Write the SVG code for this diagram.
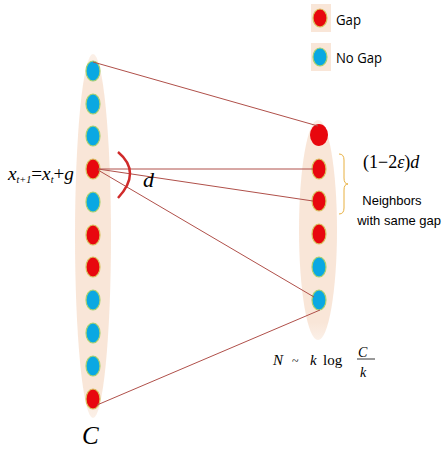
<svg xmlns="http://www.w3.org/2000/svg" width="443" height="449" viewBox="0 0 443 449">
<style>
.bg{fill:#f9e6d8}
.red{fill:#e8070e;stroke:#d8c060;stroke-width:1.2}
.blue{fill:#0aa8e2;stroke:#a8d070;stroke-width:1.2}
.con{stroke:#b0504a;stroke-width:1;fill:none}
.sans{font-family:"Open Sans","Liberation Sans",sans-serif;fill:#000}
.lsans{font-family:"Liberation Sans",Arial,sans-serif;fill:#000}
.math{font-family:"Liberation Serif",serif;font-style:italic;fill:#000}
.rm{font-family:"Liberation Serif",serif;fill:#000}
</style>
<defs>
<linearGradient id="fade" x1="0" y1="0" x2="0" y2="1">
<stop offset="0" stop-color="#f9e6d8" stop-opacity="0.6"/>
<stop offset="0.08" stop-color="#f9e6d8"/>
<stop offset="0.92" stop-color="#f9e6d8"/>
<stop offset="1" stop-color="#f9e6d8" stop-opacity="0.6"/>
</linearGradient>
</defs>
<g id="legend">
<rect x="311" y="4" width="20" height="28" class="bg"/>
<ellipse cx="320" cy="18" rx="7" ry="9" class="red"/>
<text x="336" y="25" font-size="15" class="sans" textLength="25" lengthAdjust="spacingAndGlyphs">Gap</text>
<rect x="311" y="43" width="20" height="28" class="bg"/>
<ellipse cx="320" cy="57" rx="7" ry="9" class="blue"/>
<text x="336" y="63" font-size="15" class="sans" textLength="46" lengthAdjust="spacingAndGlyphs">No Gap</text>
</g>
<g id="left-set">
<ellipse cx="93" cy="236" rx="18" ry="182" fill="url(#fade)"/>
<ellipse cx="93" cy="71" rx="7" ry="10" class="blue"/>
<ellipse cx="93" cy="104" rx="7" ry="10" class="blue"/>
<ellipse cx="93" cy="136" rx="7" ry="10" class="blue"/>
<ellipse cx="93" cy="169" rx="7" ry="10" class="red"/>
<ellipse cx="93" cy="202" rx="7" ry="10" class="blue"/>
<ellipse cx="93" cy="235" rx="7" ry="10" class="red"/>
<ellipse cx="93" cy="267" rx="7" ry="10" class="red"/>
<ellipse cx="93" cy="300" rx="7" ry="10" class="blue"/>
<ellipse cx="93" cy="333" rx="7" ry="10" class="blue"/>
<ellipse cx="93" cy="366" rx="7" ry="10" class="blue"/>
<ellipse cx="93" cy="399" rx="7" ry="10" class="red"/>
<text x="82" y="444" font-size="25" class="math">C</text>
</g>
<g id="right-set">
<ellipse cx="318" cy="230" rx="19" ry="110" fill="url(#fade)"/>
<ellipse cx="319" cy="135" rx="9" ry="11" fill="#e8070e"/>
<ellipse cx="319" cy="169" rx="7" ry="10" class="red"/>
<ellipse cx="319" cy="201" rx="7" ry="10" class="red"/>
<ellipse cx="319" cy="234" rx="7" ry="10" class="red"/>
<ellipse cx="319" cy="267" rx="7" ry="10" class="blue"/>
<ellipse cx="319" cy="300" rx="7" ry="10" class="blue"/>
</g>
<g id="connectors">
<line x1="93" y1="62" x2="318" y2="126" class="con"/>
<line x1="98" y1="169" x2="313" y2="169" class="con"/>
<line x1="98" y1="169" x2="313" y2="201" class="con"/>
<line x1="98" y1="170" x2="314" y2="297" class="con"/>
<line x1="97" y1="405" x2="320" y2="310" class="con"/>
</g>
<g id="angle">
<path d="M118,152 Q142,172 118,198" stroke="#d02a2a" stroke-width="2.5" fill="none"/>
<text x="143" y="187" font-size="22" class="math">d</text>
</g>
<g id="recurrence">
<text x="8" y="180" font-size="19" class="math" textLength="66" lengthAdjust="spacingAndGlyphs">x<tspan font-size="10" dy="3">t+1</tspan><tspan dy="-3" font-style="normal">=</tspan>x<tspan font-size="10" dy="3">t</tspan><tspan dy="-3" font-style="normal">+</tspan>g</text>
</g>
<g id="bracket">
<path d="M339,154 Q344,154 344,160 L344,178 Q344,184 348,184 Q344,184 344,190 L344,208 Q344,214 339,214" stroke="#e8b040" stroke-width="1" fill="none"/>
<text x="363" y="168" font-size="18" class="rm">(1−2<tspan font-style="italic">ε</tspan>)<tspan font-style="italic">d</tspan></text>
<text x="392" y="205" font-size="13" class="lsans" text-anchor="middle">Neighbors</text>
<text x="441" y="225" font-size="13" class="lsans" text-anchor="end">with same gap</text>
</g>
<g id="bound">
<text x="273" y="365" font-size="15" class="math">N</text>
<text x="292" y="365" font-size="12" class="rm">~</text>
<text x="310" y="365" font-size="15" class="math">k</text>
<text x="323" y="365" font-size="15" class="rm">log</text>
<text x="358" y="357" font-size="14" class="math">C</text>
<line x1="357" y1="359" x2="375" y2="359" stroke="#000" stroke-width="0.8"/>
<text x="360" y="377" font-size="14" class="math">k</text>
</g>
</svg>
